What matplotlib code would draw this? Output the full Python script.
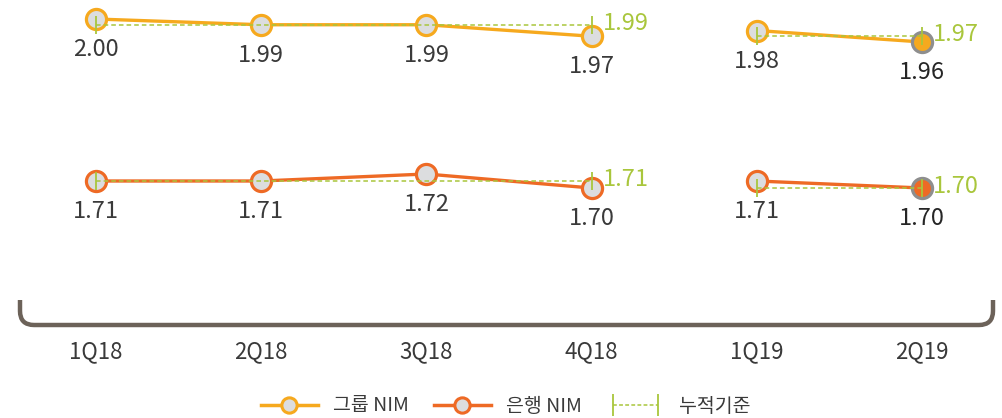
import matplotlib
matplotlib.use("Agg")
import matplotlib.pyplot as plt
from matplotlib.lines import Line2D
from matplotlib.legend_handler import HandlerLine2D
from matplotlib.path import Path
from matplotlib.patches import PathPatch

plt.rcParams['font.family'] = ['Noto Sans CJK KR', 'DejaVu Sans']

# ---------------- data ----------------
quarters = ["1Q18", "2Q18", "3Q18", "4Q18", "1Q19", "2Q19"]
group_nim = [2.00, 1.99, 1.99, 1.97, 1.98, 1.96]
bank_nim = [1.71, 1.71, 1.72, 1.70, 1.71, 1.70]
# cumulative basis: (start idx, end idx, value)
group_cum = [(0, 3, 1.99), (4, 5, 1.97)]
bank_cum = [(0, 3, 1.71), (4, 5, 1.70)]
segments = [[0, 1, 2, 3], [4, 5]]  # solid line runs (2018 / 2019)

# ---------------- style ----------------
W, H = 1002, 418
c_group = "#F6A91E"
c_bank = "#EE6A25"
c_cum = "#A9C63C"
c_fill = "#DCDDDF"
c_edge_last = "#8E8E8E"
c_text = "#3A3A3A"
c_bracket = "#6C6259"

fig = plt.figure(figsize=(W / 100, H / 100), dpi=100)

# x mapping: 1Q18 at 96px, 2Q19 at 922px
step = (922 - 96) / 5
xlim = (-96 / step, (W - 96) / step)


def add_px_axes(y0, y1):
    return fig.add_axes([0, 1 - y1 / H, 1, (y1 - y0) / H])


def draw_series(ax, vals, cum, color):
    for seg in segments:
        ax.plot(seg, [vals[i] for i in seg], color=color, lw=2.4, zorder=2,
                solid_capstyle="round")
    for i, v in enumerate(vals):
        last = i == len(vals) - 1
        ax.plot([i], [v], marker="o", ms=14.5,
                mfc=color if last else c_fill,
                mec=c_edge_last if last else color,
                mew=2.3, zorder=3, clip_on=False)
        ax.annotate(f"{v:.2f}", (i, v), xytext=(0, -22), textcoords="offset points",
                    ha="center", va="center", fontsize=17,
                    color="#262626" if last else c_text, zorder=5)
    for a, b, v in cum:
        ax.plot([a, b], [v, v], color=c_cum, lw=1.1, ls=(0, (3, 2)), zorder=4)
        ax.plot([a, b], [v, v], ls="none", marker="|", ms=13, mew=1.3, color=c_cum, zorder=4)
        ax.annotate(f"{v:.2f}", (b, v), xytext=(8, 1), textcoords="offset points",
                    ha="left", va="center", fontsize=17, color=c_cum, zorder=5)
    ax.set_xlim(*xlim)
    ax.axis("off")


# top panel: group NIM, 2.00 at 19px, 5.75px per 0.01
ax1 = add_px_axes(0, 110)
ppu1 = 575
ax1.set_ylim(2.00 - (110 - 19) / ppu1, 2.00 + 19 / ppu1)
draw_series(ax1, group_nim, group_cum, c_group)

# middle panel: bank NIM, 1.72 at 174px, 7px per 0.01
ax2 = add_px_axes(140, 260)
ppu2 = 700
ax2.set_ylim(1.72 - (260 - 174) / ppu2, 1.72 + (174 - 140) / ppu2)
draw_series(ax2, bank_nim, bank_cum, c_bank)

# bracket + category labels
ax3 = add_px_axes(300, 325)
ax3.set_xlim(*xlim)
ax3.set_ylim(0, 1)
for s in ax3.spines.values():
    s.set_visible(False)
ax3.set_yticks([])
ax3.set_xticks(range(len(quarters)))
ax3.set_xticklabels(quarters, fontsize=16, color=c_text)
ax3.tick_params(axis="x", length=0, pad=11)
ax3.patch.set_visible(False)

xl, xr = 20 / W, (W - 9) / W
rx, ry = 14 / W, 14 / 25
yb = 0.0
verts = [(xl, 1.0), (xl, yb + ry), (xl, yb), (xl + rx, yb),
         (xr - rx, yb), (xr, yb), (xr, yb + ry), (xr, 1.0)]
codes = [Path.MOVETO, Path.LINETO, Path.CURVE3, Path.CURVE3,
         Path.LINETO, Path.CURVE3, Path.CURVE3, Path.LINETO]
ax3.add_patch(PathPatch(Path(verts, codes), transform=ax3.transAxes, fill=False,
                        edgecolor=c_bracket, lw=3.2, capstyle="butt", clip_on=False))

# legend
h_group = Line2D([], [], color=c_group, lw=2.5, marker="o", ms=11, mfc=c_fill, mec=c_group, mew=2.2)
h_bank = Line2D([], [], color=c_bank, lw=2.5, marker="o", ms=11, mfc=c_fill, mec=c_bank, mew=2.2)
h_cum = Line2D([], [], color=c_cum, lw=1.1, ls=(0, (2.5, 1.5)), marker="|", ms=16, mew=1.3)
leg = fig.legend([h_group, h_bank, h_cum], ["그룹 NIM", "은행 NIM", "누적기준"],
                 loc="center", bbox_to_anchor=(0.505, 1 - 406 / H), ncol=3, frameon=False,
                 fontsize=14, handlelength=2.9, handletextpad=0.8, columnspacing=1.3,
                 numpoints=1, handler_map={h_cum: HandlerLine2D(numpoints=2)})
for t in leg.get_texts():
    t.set_color(c_text)

fig.savefig("out.png", dpi=100)
